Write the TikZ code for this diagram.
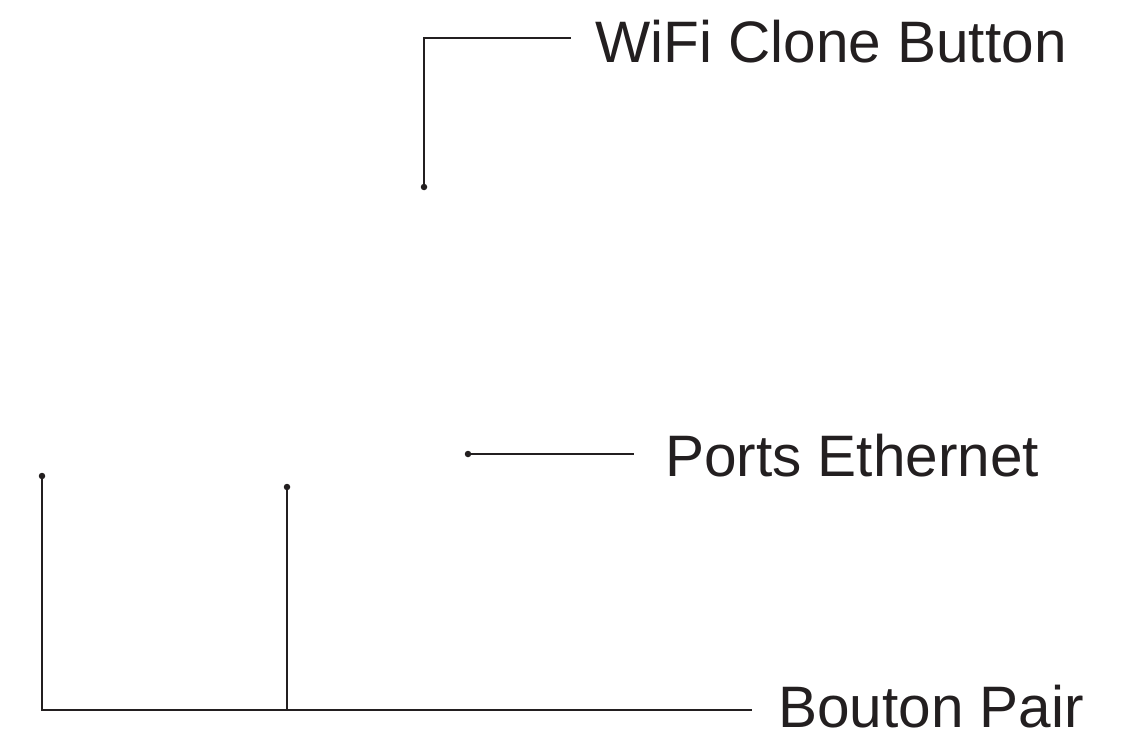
\documentclass[tikz,border=0pt]{standalone}
\usepackage{fontspec}
\setmainfont{Liberation Sans}
\definecolor{ink}{HTML}{231F20}
\tikzset{
  lbl/.style={inner sep=0pt, anchor=base west, text=ink, font=\fontsize{58.5}{70}\selectfont},
  dot/.style={circle, fill=ink, inner sep=0pt, minimum size=6.5pt},
  lead/.style={draw=ink, line width=1.4pt}
}
\begin{document}
\begin{tikzpicture}[x=1pt,y=-1pt]
          \useasboundingbox (0,0) rectangle (1127,733);
          \node[lbl] (wifi) at (595,63) {WiFi Clone Button};
          \node[lbl] (ports) at (665,476) {Ports Ethernet};
          \node[lbl] (pair) at (778,727) {Bouton Pair};
          \node[dot] (wifidot) at (424,187) {};
          \node[dot] (portsdot) at (468,454) {};
          \node[dot] (pairdota) at (42,476) {};
          \node[dot] (pairdotb) at (287,487) {};
          \coordinate (wifiend) at (571,38);
          \coordinate (portsend) at (634,454);
          \coordinate (pairend) at (752,710);
          \draw[lead] (wifidot.center) |- (wifiend);
          \draw[lead] (portsdot.center) -- (portsend);
          \draw[lead] (pairdota.center) |- (pairend);
          \draw[lead] (pairdotb.center) -- (pairdotb |- pairend);
        \end{tikzpicture}
\end{document}
